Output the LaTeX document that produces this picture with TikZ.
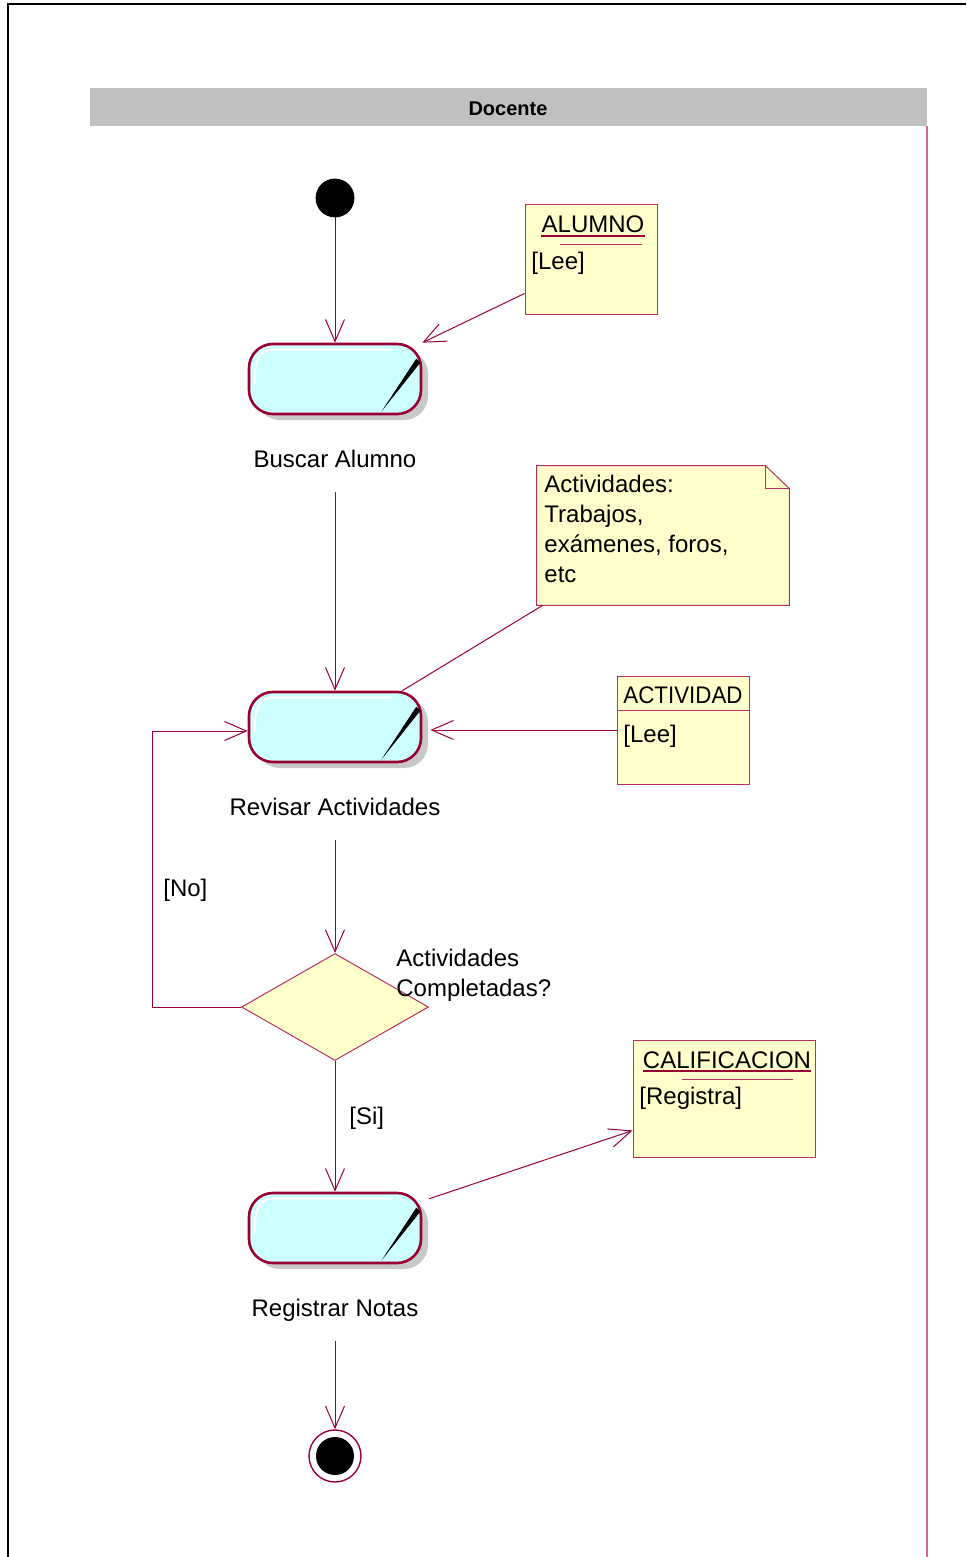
\documentclass[tikz,border=0pt]{standalone}
\usepackage{fontspec}
\setmainfont{Liberation Sans}
\newfontfamily\narrowsans[FakeStretch=0.93]{Liberation Sans}
\usetikzlibrary{arrows.meta,shapes.geometric,shadows,calc}

\definecolor{wine}{RGB}{153,0,51}
\definecolor{rosered}{RGB}{184,48,96}
\definecolor{lanepink}{RGB}{214,104,142}
\definecolor{actfill}{RGB}{204,255,255}
\definecolor{objfill}{RGB}{255,255,204}
\definecolor{hdrgray}{RGB}{192,192,192}
\definecolor{shadowgray}{RGB}{200,200,200}

\tikzset{
  conn/.style={draw=wine, line width=0.5pt,
    -{Straight Barb[length=11pt,width=9.5pt,line width=0.5pt]}},
  plain/.style={draw=wine, line width=0.5pt},
  activity/.style={rectangle, rounded corners=12pt, draw=wine, line width=1.3pt,
    fill=actfill, minimum width=86pt, minimum height=35pt, inner sep=0pt,
    general shadow={fill=shadowgray, shadow xshift=3.5pt, shadow yshift=-3pt}},
  objbox/.style={rectangle, draw=rosered, line width=0.5pt, fill=objfill, inner sep=0pt},
  txt/.style={inner sep=0pt, font=\fontsize{12}{15}\selectfont},
  sepline/.style={draw=rosered, line width=0.5pt},
  uline/.style={draw=wine, line width=0.9pt},
}

% highlight stroke and corner slash of an activity state
\newcommand\actdeco[1]{%
  \draw[white, line width=1pt, line cap=round]
    ($(#1.north west)+(3.5pt,-20.5pt)$) .. controls ($(#1.north west)+(3.5pt,-8pt)$)
    and ($(#1.north west)+(6pt,-3.5pt)$) .. ($(#1.north west)+(12.5pt,-3.5pt)$)
    -- ($(#1.north west)+(72pt,-3.5pt)$);
  \fill[black] ($(#1.north east)+(-3pt,-8pt)$) -- ($(#1.north east)+(-1pt,-10pt)$)
    -- ($(#1.north east)+(-20.5pt,-34.5pt)$) -- cycle;
}

\begin{document}
\begin{tikzpicture}[x=0.5pt,y=-0.5pt]
\useasboundingbox (0,0) rectangle (966,1557);

% outer frame
\draw[black, line width=1.2pt] (8,1557) -- (8,4) -- (966,4);

% swimlane
\fill[hdrgray] (90,88) rectangle (927,126);
\node[font=\bfseries\fontsize{10}{12}\selectfont, inner sep=0pt, anchor=base] (lane) at (508,116) {Docente};
\draw[lanepink, line width=0.7pt] (927,126) -- (927,1557);

% initial state
\node[circle, fill=black, draw=black, minimum size=19pt, inner sep=0pt] (init) at (335,198) {};

% activity: Buscar Alumno
\node[activity] (a1) at (335,379) {};
\actdeco{a1}
\node[txt, anchor=base] (l1) at (335,467) {Buscar Alumno};

% object ALUMNO
\node[objbox, minimum width=66pt, minimum height=54.5pt] (alumno) at (591,259.5) {};
\node[txt, anchor=base] (alumnoname) at (593,233) {ALUMNO};
\draw[uline] ($(alumnoname.base west)+(0,-1.5pt)$) -- ($(alumnoname.base east)+(0,-1.5pt)$);
\draw[sepline] ($(alumno.north west)+(17.5pt,-20pt)$) -- ($(alumno.north east)+(-8pt,-20pt)$);
\node[txt, anchor=base west] (alumnostate) at (531,270) {[Lee]};

% note
\node[minimum width=126pt, minimum height=69.5pt, inner sep=0pt] (nota) at (663,535.5) {};
\draw[objbox] (nota.south west) -- (nota.north west) -- ($(nota.north east)+(-12pt,0)$)
  -- ($(nota.north east)+(0,-11.5pt)$) -- (nota.south east) -- cycle;
\draw[sepline] ($(nota.north east)+(-12pt,0)$) -- ($(nota.north east)+(-12pt,-11.5pt)$)
  -- ($(nota.north east)+(0,-11.5pt)$);
% base anchor of a multi-line node sits on its last line
\node[txt, anchor=base west, align=left] (notatext) at (544,582)
  {Actividades:\\Trabajos,\\exámenes, foros,\\etc};

% activity: Revisar Actividades
\node[activity] (a2) at (335,727) {};
\actdeco{a2}
\node[txt, anchor=base] (l2) at (335,815) {Revisar Actividades};

% object ACTIVIDAD
\node[objbox, minimum width=66pt, minimum height=54pt] (actividad) at (683,730) {};
\draw[sepline] ($(actividad.north west)+(0,-17.5pt)$) -- ($(actividad.north east)+(0,-17.5pt)$);
\node[txt, anchor=base] (actname) at (683,703) {\narrowsans ACTIVIDAD};
\node[txt, anchor=base west] (actstate) at (623,742) {[Lee]};

% decision
\node[diamond, draw=rosered, line width=0.5pt, fill=objfill, minimum width=93.5pt,
  minimum height=53.5pt, inner sep=0pt] (dec) at (335,1007) {};
\node[txt, anchor=base west, align=left] (declabel) at (396,996) {Actividades\\Completadas?};
\coordinate (loop) at (152,1007);
\node[txt, anchor=base west] (nolabel) at (163,896) {[No]};
\node[txt, anchor=base west] (silabel) at (349,1124) {[Si]};

% activity: Registrar Notas
\node[activity] (a3) at (335,1228) {};
\actdeco{a3}
\node[txt, anchor=base] (l3) at (335,1316) {Registrar Notas};

% object CALIFICACION
\node[objbox, minimum width=91pt, minimum height=58.5pt] (calif) at (724,1098.5) {};
\node[txt, anchor=base] (califname) at (727,1068) {CALIFICACION};
\draw[uline] ($(califname.base west)+(0,-1.5pt)$) -- ($(califname.base east)+(0,-1.5pt)$);
\draw[sepline] ($(calif.north west)+(24.5pt,-20pt)$) -- ($(calif.north east)+(-11.5pt,-20pt)$);
\node[txt, anchor=base west] (califstate) at (639,1104) {[Registra]};

% final state
\node[circle, draw=wine, line width=0.7pt, fill=white, minimum size=26pt, inner sep=0pt,
  path picture={\fill[black] (path picture bounding box.center) circle (9.5pt);}] (final) at (335,1456) {};

% transitions and object flows
\draw[conn] (init) -- (a1);
\draw[conn] ($(alumno.south west)+(0,10.5pt)$) -- (a1.north east);
\draw[conn, shorten <=12pt] (l1) -- (a2);
\draw[plain] ($(nota.south west)+(3pt,0)$) -- ($(a2.north east)+(-10pt,0)$);
\draw[conn] (actividad.west) -- ($(actividad.west -| a2.east)+(4pt,0)$);
\draw[conn, shorten <=12pt] (l2) -- (dec);
\draw[conn] (dec.west) -- (loop) |- ($(a2.west)+(0,-2pt)$);
\draw[conn] (dec) -- (a3);
\draw[conn] ($(a3.north east)+(3.5pt,-3.5pt)$) -- ($(calif.west)+(0,-16pt)$);
\draw[conn, shorten <=10pt] (l3) -- (final);
\end{tikzpicture}
\end{document}
